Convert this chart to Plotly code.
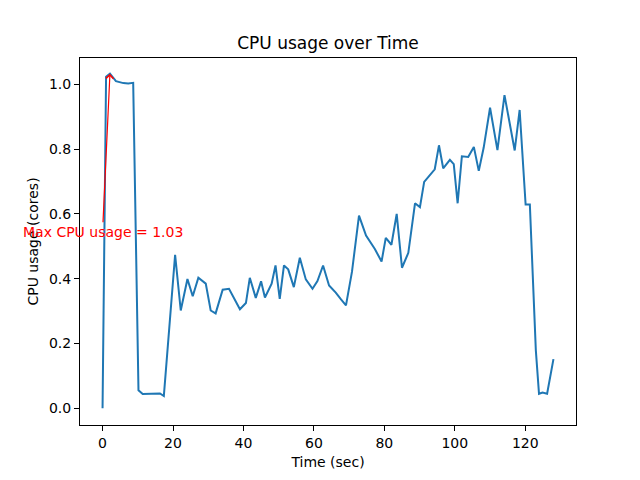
import plotly.graph_objects as go

times = [0, 1.0, 2.1, 3.8, 5.9, 7.3, 8.7, 10.2, 11.4, 12.9, 14.6, 16.3, 17.4,
         20.6, 22.2, 24.1, 25.6, 27.2, 29.3, 30.7, 32.1, 34.1, 35.9,
         39.0, 40.7, 41.8, 43.5, 45.0, 46.1, 48.0, 49.1, 50.3, 51.5,
         52.7, 54.3, 56.0, 57.7, 59.6, 61.0, 62.6, 64.3, 66.2, 67.7,
         69.1, 70.8, 72.8, 74.8, 77.3, 79.2, 80.4, 82.0, 83.5, 85.0,
         86.8, 88.7, 90.1, 91.3, 92.8, 94.3, 95.5, 96.7, 98.6, 99.7,
         100.8, 102.0, 103.8, 105.4, 106.8, 108.2, 110.0, 112.1, 114.1, 117.0,
         118.4, 120.1, 121.3, 123.0, 123.9, 124.9, 126.2, 128.0]
cpu = [0.0, 1.024, 1.033, 1.01, 1.004, 1.003, 1.005, 0.056, 0.044, 0.044, 0.045, 0.046, 0.038,
       0.474, 0.302, 0.399, 0.346, 0.403, 0.385, 0.302, 0.293, 0.366, 0.369,
       0.306, 0.325, 0.403, 0.341, 0.392, 0.342, 0.385, 0.441, 0.338, 0.441,
       0.429, 0.374, 0.465, 0.398, 0.369, 0.393, 0.441, 0.379, 0.357, 0.336,
       0.318, 0.421, 0.595, 0.533, 0.492, 0.453, 0.526, 0.505, 0.600, 0.434,
       0.480, 0.633, 0.621, 0.699, 0.718, 0.738, 0.812, 0.741, 0.767, 0.754,
       0.633, 0.778, 0.776, 0.807, 0.733, 0.805, 0.928, 0.797, 0.967, 0.796,
       0.921, 0.629, 0.629, 0.179, 0.045, 0.049, 0.045, 0.152]

x_ticks = [0, 20, 40, 60, 80, 100, 120]
y_ticks = [0.0, 0.2, 0.4, 0.6, 0.8, 1.0]

max_i = max(range(len(cpu)), key=lambda i: cpu[i])
max_t, max_v = times[max_i], cpu[max_i]
text_pos = (0.0, 0.545)

font = "DejaVu Sans"

fig = go.Figure()
fig.add_trace(go.Scatter(x=times, y=cpu, mode="lines",
                         line=dict(color="#1f77b4", width=2), showlegend=False))

fig.add_annotation(x=max_t, y=max_v, xref="x", yref="y",
                   ax=text_pos[0], ay=text_pos[1], axref="x", ayref="y",
                   text=f"Max CPU usage = {max_v:.2f}",
                   font=dict(color="red", size=14, family=font),
                   showarrow=True, arrowcolor="red", arrowwidth=1.2,
                   arrowhead=4, arrowsize=1.2, standoff=0)

axis_common = dict(showline=True, linecolor="black", linewidth=1, mirror=True,
                   ticks="outside", ticklen=5, tickcolor="black", showgrid=False,
                   zeroline=False, tickfont=dict(size=14, color="black", family=font))

fig.update_xaxes(range=[-6.4, 134.4], tickvals=x_ticks,
                 title=dict(text="Time (sec)", font=dict(size=14, color="black", family=font), standoff=7),
                 **axis_common)
fig.update_yaxes(range=[-0.0515, 1.0815], tickvals=y_ticks, tickformat=".1f",
                 title=dict(text="CPU usage (cores)", font=dict(size=14, color="black", family=font), standoff=7),
                 **axis_common)

# page body has an 8px default margin; size the figure to compensate
fig.update_layout(
    width=632, height=472,
    margin=dict(l=72, r=64, t=50, b=53),
    paper_bgcolor="white", plot_bgcolor="white",
    title=dict(text="CPU usage over Time", x=0.5, xref="paper", xanchor="center",
               y=1 - 35 / 472, yanchor="middle",
               font=dict(size=17, color="black", family=font)),
)

fig.write_html("out.html")
